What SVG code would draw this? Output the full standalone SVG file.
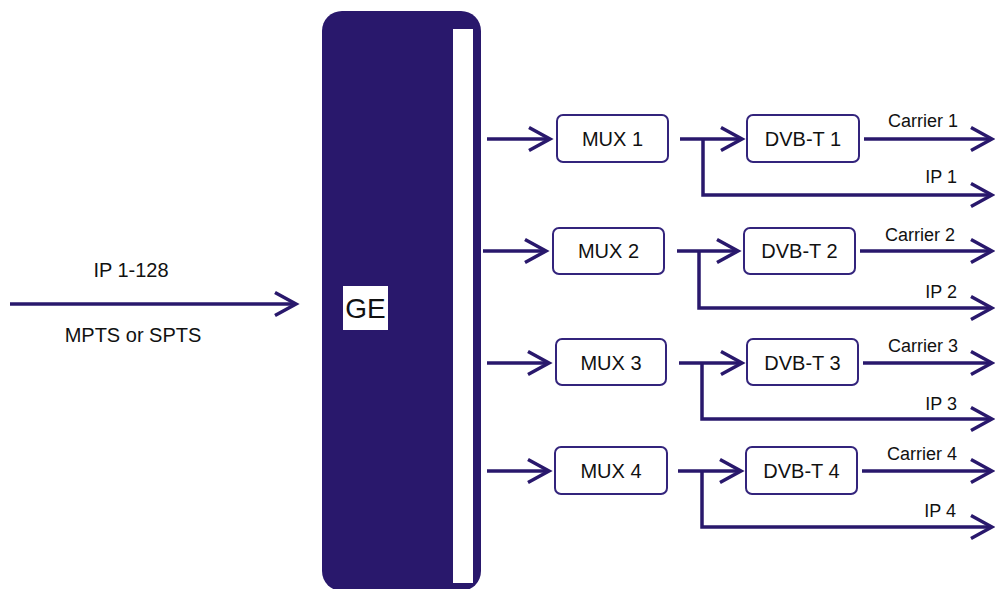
<svg xmlns="http://www.w3.org/2000/svg" width="995" height="589" viewBox="0 0 995 589">
<defs>
<style>
.ln{fill:none;stroke:#29186c;stroke-width:3.5;stroke-linejoin:miter}
.arr{marker-end:url(#ah)}
.box{fill:#fff;stroke:#33247c;stroke-width:2}
.t{font-family:"Liberation Sans",Arial,sans-serif;font-size:20px;fill:#111;text-anchor:middle}
.s{font-family:"Liberation Sans",Arial,sans-serif;font-size:18px;fill:#111}
</style>
<marker id="ah" markerUnits="userSpaceOnUse" markerWidth="32" markerHeight="32" viewBox="-28 -16 32 32" refX="0" refY="0" orient="auto">
<path d="M-21,-11.5 L0,0 L-21,11.5" fill="none" stroke="#29186c" stroke-width="3.5"/>
</marker>
</defs>
<rect width="995" height="589" fill="#fff"/>

<g id="ge">
<rect x="322" y="11" width="159" height="580" rx="20" fill="#29186c"/>
<rect x="453" y="29" width="20" height="554" fill="#fff"/>
<rect x="343" y="286" width="45" height="44" fill="#fff"/>
<text x="365.5" y="318" font-family="Liberation Sans,Arial,sans-serif" font-size="28" fill="#111" text-anchor="middle">GE</text>
</g>

<g id="input-labels">
<text class="t" x="131" y="277">IP 1-128</text>
<text class="t" x="133" y="342">MPTS or SPTS</text>
</g>

<g id="connectors">
<path class="ln arr" d="M10,304 H296"/>
<!-- row 1 -->
<path class="ln arr" d="M487,139 H550"/>
<path class="ln arr" d="M680,139 H742"/>
<path class="ln arr" d="M703,139 V195 H992"/>
<path class="ln arr" d="M864,139 H992"/>
<!-- row 2 -->
<path class="ln arr" d="M483,251 H546"/>
<path class="ln arr" d="M677,251 H738"/>
<path class="ln arr" d="M699,251 V308 H992"/>
<path class="ln arr" d="M860,251 H992"/>
<!-- row 3 -->
<path class="ln arr" d="M487,363 H549"/>
<path class="ln arr" d="M679,363 H742"/>
<path class="ln arr" d="M702,363 V419 H992"/>
<path class="ln arr" d="M863,363 H992"/>
<!-- row 4 -->
<path class="ln arr" d="M487,471 H549"/>
<path class="ln arr" d="M678,471 H741"/>
<path class="ln arr" d="M702,471 V527 H992"/>
<path class="ln arr" d="M862,471 H992"/>
</g>

<g id="mux1"><rect class="box" x="557" y="115" width="111" height="47" rx="6"/><text class="t" x="612.5" y="146">MUX 1</text></g>
<g id="dvbt1"><rect class="box" x="747" y="115" width="112" height="47" rx="6"/><text class="t" x="803" y="146">DVB-T 1</text></g>
<g id="mux2"><rect class="box" x="553" y="228" width="111" height="46" rx="6"/><text class="t" x="608.5" y="258">MUX 2</text></g>
<g id="dvbt2"><rect class="box" x="744" y="228" width="111" height="46" rx="6"/><text class="t" x="799.5" y="258">DVB-T 2</text></g>
<g id="mux3"><rect class="box" x="556" y="339" width="110" height="46" rx="6"/><text class="t" x="611" y="370">MUX 3</text></g>
<g id="dvbt3"><rect class="box" x="747" y="339" width="111" height="46" rx="6"/><text class="t" x="802.5" y="370">DVB-T 3</text></g>
<g id="mux4"><rect class="box" x="555" y="447" width="112" height="47" rx="6"/><text class="t" x="611" y="478">MUX 4</text></g>
<g id="dvbt4"><rect class="box" x="746" y="447" width="111" height="47" rx="6"/><text class="t" x="801.5" y="478">DVB-T 4</text></g>

<g id="output-labels">
<text class="s" x="923" y="127" text-anchor="middle">Carrier 1</text>
<text class="s" x="957" y="183" text-anchor="end">IP 1</text>
<text class="s" x="920" y="241" text-anchor="middle">Carrier 2</text>
<text class="s" x="957" y="298" text-anchor="end">IP 2</text>
<text class="s" x="923" y="352" text-anchor="middle">Carrier 3</text>
<text class="s" x="957" y="410" text-anchor="end">IP 3</text>
<text class="s" x="922" y="460" text-anchor="middle">Carrier 4</text>
<text class="s" x="956" y="517" text-anchor="end">IP 4</text>
</g>
</svg>
